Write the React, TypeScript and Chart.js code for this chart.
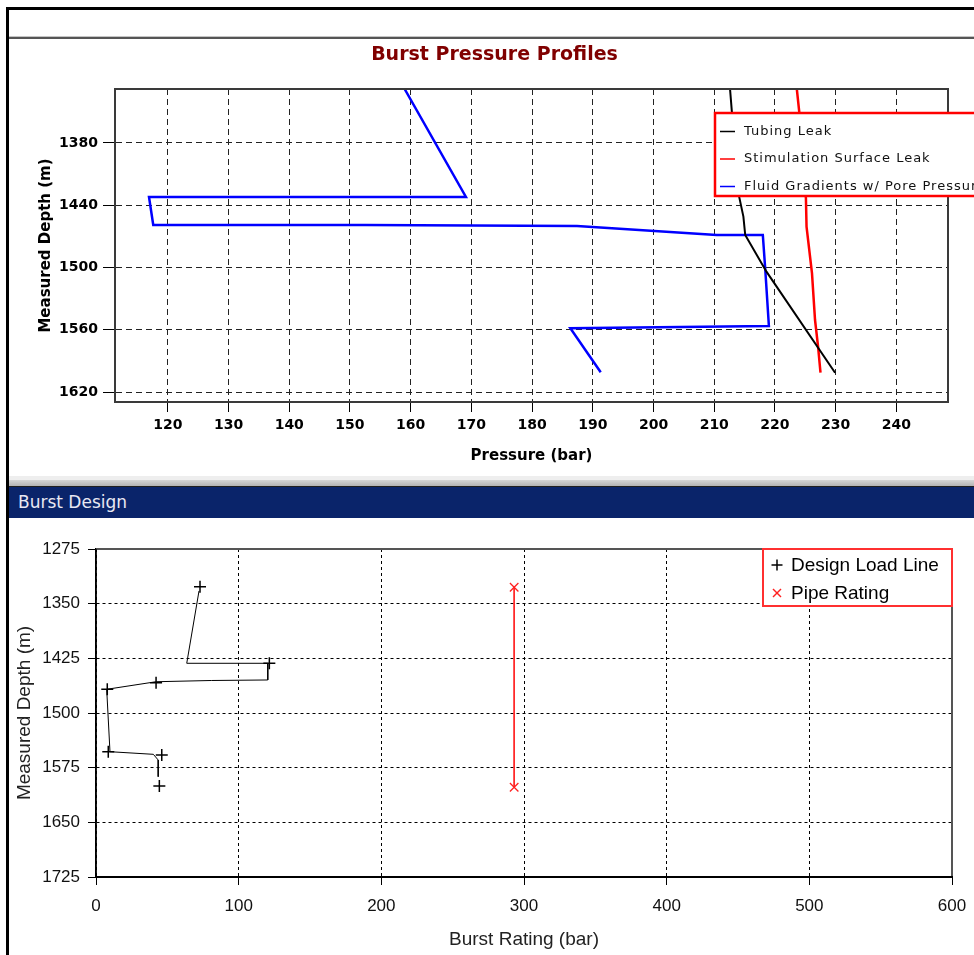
import React, { useEffect, useRef } from 'react';
import { Chart, registerables } from 'chart.js';

Chart.register(...registerables);

// ---------- Burst Pressure Profiles (upper chart) ----------
const PRESSURE_TICKS = [120, 130, 140, 150, 160, 170, 180, 190, 200, 210, 220, 230, 240];
const TOP_DEPTH_TICKS = [1380, 1440, 1500, 1560, 1620];

const TUBING_LEAK_PRESSURE = [212.6, 212.9, 214.1, 214.8, 215.1, 218.6, 229.9];
const TUBING_LEAK_DEPTH = [1328, 1349.8, 1431.8, 1451, 1468.7, 1504, 1601.4];

const STIMULATION_LEAK_PRESSURE = [223.6, 224.0, 225.1, 225.2, 226.1, 226.6, 227.1, 227.5];
const STIMULATION_LEAK_DEPTH = [1328, 1350, 1433.3, 1460.7, 1505.6, 1550.6, 1576.3, 1601.4];

const FLUID_GRADIENT_PRESSURE = [159.0, 169.1, 116.9, 117.6, 152.5, 187.4, 210.4, 218.0, 218.4, 219.0, 186.3, 191.3];
const FLUID_GRADIENT_DEPTH = [1328, 1432, 1432, 1459, 1459, 1460, 1468.7, 1468.7, 1501.7, 1556.4, 1558.6, 1601];

// ---------- Burst Design (lower chart) ----------
const BURST_TICKS = [0, 100, 200, 300, 400, 500, 600];
const BOTTOM_DEPTH_TICKS = [1275, 1350, 1425, 1500, 1575, 1650, 1725];

const DESIGN_LOAD_PATH_BAR = [72.2, 63.6, 120.4, 120.4, 81.1, 42.1, 7.5, 9.8, 40.2, 43.6, 43.6];
const DESIGN_LOAD_PATH_DEPTH = [1332.6, 1431.8, 1431.8, 1454.7, 1455.4, 1457.1, 1467.5, 1553.1, 1556.7, 1564.5, 1587.4];
const DESIGN_LOAD_POINT_BAR = [72.9, 121.5, 42.1, 7.9, 8.6, 46.1, 44.4];
const DESIGN_LOAD_POINT_DEPTH = [1326.7, 1431.8, 1458.4, 1467.5, 1553.1, 1557.6, 1600.2];

const PIPE_RATING_BAR = [293.1, 293.1];
const PIPE_RATING_DEPTH = [1327.5, 1601.8];

const FONT_BOLD = "'DejaVu Sans', 'Liberation Sans', sans-serif";
const FONT_SANS = "'Liberation Sans', Arial, sans-serif";

function xy(xs: number[], ys: number[]) {
  return xs.map((x, i) => ({ x, y: ys[i] }));
}

const fixedTicks = (values: number[]) => (scale: any) => {
  scale.ticks = values.map((v) => ({ value: v }));
};

const fitHeight = (h: number) => (s: any) => {
  s.height = h;
  s.paddingLeft = 0;
  s.paddingRight = 0;
};

const fitWidth = (w: number) => (s: any) => {
  s.width = w;
  s.paddingTop = 0;
  s.paddingBottom = 0;
};

const topFrame = {
  id: 'topFrame',
  afterDraw(chart: any) {
    const { ctx, chartArea: a } = chart;
    ctx.save();
    ctx.strokeStyle = '#3a3a3a';
    ctx.lineWidth = 2;
    ctx.strokeRect(a.left, a.top, a.right - a.left, a.bottom - a.top);

    const left = a.right - 233;
    const top = a.top + 24;
    const w = chart.width - left + 10;
    const h = 83;
    ctx.fillStyle = '#fff';
    ctx.fillRect(left, top, w, h);
    ctx.strokeStyle = '#ff0000';
    ctx.lineWidth = 2.5;
    ctx.strokeRect(left, top, w, h);
    ctx.font = `13px ${FONT_BOLD}`;
    ctx.textBaseline = 'middle';
    ctx.textAlign = 'left';
    (ctx as any).letterSpacing = '1px';
    chart.data.datasets.forEach((ds: any, i: number) => {
      const y = top + 18.5 + i * 27.5;
      ctx.strokeStyle = ds.borderColor;
      ctx.lineWidth = 1.5;
      ctx.beginPath();
      ctx.moveTo(left + 5, y);
      ctx.lineTo(left + 20, y);
      ctx.stroke();
      ctx.fillStyle = '#111';
      ctx.fillText(ds.label, left + 29, y);
    });
    ctx.restore();
  },
};

const bottomFrame = {
  id: 'bottomFrame',
  afterDraw(chart: any) {
    const { ctx, chartArea: a } = chart;
    const line = (x1: number, y1: number, x2: number, y2: number) => {
      ctx.beginPath();
      ctx.moveTo(x1, y1);
      ctx.lineTo(x2, y2);
      ctx.stroke();
    };
    ctx.save();
    ctx.lineWidth = 2;
    ctx.strokeStyle = '#555';
    line(a.left, a.top, a.right, a.top);
    line(a.right, a.top, a.right, a.bottom);
    ctx.strokeStyle = '#000';
    line(a.left - 1, a.bottom, a.right + 1, a.bottom);
    ctx.lineWidth = 1.5;
    line(a.left, a.top, a.left, a.bottom);

    const w = 189;
    const h = 57;
    const left = a.right - w;
    const top = a.top;
    ctx.fillStyle = '#fff';
    ctx.fillRect(left, top, w, h);
    ctx.strokeStyle = '#ff3030';
    ctx.lineWidth = 2;
    ctx.strokeRect(left, top, w, h);

    const items = chart.data.datasets.filter((ds: any) => ds.pointRadius > 0);
    ctx.font = `19px ${FONT_SANS}`;
    ctx.textBaseline = 'middle';
    ctx.textAlign = 'left';
    items.forEach((ds: any, i: number) => {
      const y = top + 16 + i * 28;
      const mx = left + 14;
      ctx.strokeStyle = ds.pointBorderColor;
      ctx.lineWidth = 1.5;
      if (ds.pointStyle === 'cross') {
        const r = 5.5;
        line(mx - r, y, mx + r, y);
        line(mx, y - r, mx, y + r);
      } else {
        const r = 4;
        line(mx - r, y - r, mx + r, y + r);
        line(mx - r, y + r, mx + r, y - r);
      }
      ctx.fillStyle = '#000';
      ctx.fillText(ds.label, left + 28, y + 1);
    });
    ctx.restore();
  },
};

export default function App() {
  const topRef = useRef<HTMLCanvasElement>(null);
  const botRef = useRef<HTMLCanvasElement>(null);

  useEffect(() => {
    const boldTick = { family: FONT_BOLD, size: 14, weight: 'bold' as const };
    const boldTitle = { family: FONT_BOLD, size: 15, weight: 'bold' as const };

    const topChart = new Chart(topRef.current as HTMLCanvasElement, {
      type: 'scatter',
      data: {
        datasets: [
          {
            label: 'Tubing Leak',
            data: xy(TUBING_LEAK_PRESSURE, TUBING_LEAK_DEPTH),
            showLine: true,
            borderColor: '#000000',
            borderWidth: 2,
            pointRadius: 0,
          },
          {
            label: 'Stimulation Surface Leak',
            data: xy(STIMULATION_LEAK_PRESSURE, STIMULATION_LEAK_DEPTH),
            showLine: true,
            borderColor: '#ff0000',
            borderWidth: 2.5,
            pointRadius: 0,
          },
          {
            label: 'Fluid Gradients w/ Pore Pressure',
            data: xy(FLUID_GRADIENT_PRESSURE, FLUID_GRADIENT_DEPTH),
            showLine: true,
            borderColor: '#0000ff',
            borderWidth: 2.5,
            pointRadius: 0,
          },
        ],
      },
      options: {
        responsive: false,
        animation: false,
        devicePixelRatio: 1,
        layout: { padding: { left: 41, right: 26, top: 0, bottom: 0 } },
        plugins: {
          legend: { display: false },
          tooltip: { enabled: false },
          title: {
            display: true,
            text: 'Burst Pressure Profiles',
            color: '#800000',
            font: { family: FONT_BOLD, size: 19, weight: 'bold' },
            padding: { top: 4.6, bottom: 22.6 },
          },
        },
        scales: {
          x: {
            type: 'linear',
            position: 'bottom',
            min: 111.3,
            max: 248.5,
            afterBuildTicks: fixedTicks(PRESSURE_TICKS),
            afterFit: fitHeight(74),
            grid: { color: '#222', lineWidth: 1, tickLength: 10, tickColor: '#000', tickWidth: 1 },
            border: { display: true, color: '#3a3a3a', width: 2, dash: [6, 4] },
            ticks: {
              color: '#000',
              font: boldTick,
              padding: 5,
              autoSkip: false,
              maxRotation: 0,
              callback: (v: any) => String(v),
            },
            title: {
              display: true,
              text: 'Pressure (bar)',
              color: '#000',
              font: boldTitle,
              padding: { top: 0, bottom: 11 },
            },
          },
          y: {
            type: 'linear',
            position: 'left',
            reverse: true,
            min: 1328,
            max: 1629.6,
            afterBuildTicks: fixedTicks(TOP_DEPTH_TICKS),
            afterFit: fitWidth(74),
            grid: { color: '#222', lineWidth: 1, tickLength: 12, tickColor: '#000', tickWidth: 1 },
            border: { display: true, color: '#3a3a3a', width: 2, dash: [6, 4] },
            ticks: {
              color: '#000',
              font: boldTick,
              padding: 5,
              autoSkip: false,
              callback: (v: any) => String(v),
            },
            title: {
              display: true,
              text: 'Measured Depth (m)',
              color: '#000',
              font: boldTitle,
              padding: { top: -4, bottom: 0 },
            },
          },
        },
      } as any,
      plugins: [topFrame],
    });

    const botChart = new Chart(botRef.current as HTMLCanvasElement, {
      type: 'scatter',
      data: {
        datasets: [
          {
            label: 'Design Load Line',
            data: xy(DESIGN_LOAD_PATH_BAR, DESIGN_LOAD_PATH_DEPTH),
            showLine: true,
            borderColor: '#000',
            borderWidth: 1,
            pointRadius: 0,
          },
          {
            label: 'Design Load Line',
            data: xy(DESIGN_LOAD_POINT_BAR, DESIGN_LOAD_POINT_DEPTH),
            showLine: false,
            pointStyle: 'cross',
            pointRadius: 6,
            pointBorderColor: '#000',
            pointBorderWidth: 1.5,
            borderColor: '#000',
          },
          {
            label: 'Pipe Rating',
            data: xy(PIPE_RATING_BAR, PIPE_RATING_DEPTH),
            showLine: true,
            borderColor: '#ff2020',
            borderWidth: 1,
            pointStyle: 'crossRot',
            pointRadius: 6,
            pointBorderColor: '#ff2020',
            pointBorderWidth: 1.3,
          },
        ],
      },
      options: {
        responsive: false,
        animation: false,
        devicePixelRatio: 1,
        layout: { padding: { left: 0, right: 22, top: 30, bottom: 0 } },
        plugins: {
          legend: { display: false },
          tooltip: { enabled: false },
        },
        scales: {
          x: {
            type: 'linear',
            position: 'bottom',
            min: 0,
            max: 600,
            afterBuildTicks: fixedTicks(BURST_TICKS),
            afterFit: fitHeight(78),
            grid: { color: '#000', lineWidth: 1, tickLength: 8, tickColor: '#000', tickWidth: 1 },
            border: { display: true, color: '#000', width: 1.5, dash: [3, 3] },
            ticks: {
              color: '#111',
              font: { family: FONT_SANS, size: 17 },
              padding: 11,
              autoSkip: false,
              maxRotation: 0,
              callback: (v: any) => String(v),
            },
            title: {
              display: true,
              text: 'Burst Rating (bar)',
              color: '#222',
              font: { family: FONT_SANS, size: 19 },
              padding: { top: 0, bottom: 3.6 },
            },
          },
          y: {
            type: 'linear',
            position: 'left',
            reverse: true,
            min: 1275,
            max: 1725,
            afterBuildTicks: fixedTicks(BOTTOM_DEPTH_TICKS),
            afterFit: fitWidth(96),
            grid: { color: '#000', lineWidth: 1, tickLength: 8, tickColor: '#000', tickWidth: 1 },
            border: { display: true, color: '#000', width: 1.5, dash: [3, 3] },
            ticks: {
              color: '#111',
              font: { family: FONT_SANS, size: 17 },
              padding: 8,
              autoSkip: false,
              callback: (v: any) => String(v),
            },
            title: {
              display: true,
              text: 'Measured Depth (m)',
              color: '#222',
              font: { family: FONT_SANS, size: 19 },
              padding: { top: 13.6, bottom: 0 },
            },
          },
        },
      } as any,
      plugins: [bottomFrame],
    });

    return () => {
      topChart.destroy();
      botChart.destroy();
    };
  }, []);

  const abs = (s: React.CSSProperties): React.CSSProperties => ({ position: 'absolute', ...s });

  return (
    <div style={abs({ left: 0, top: 0, width: 974, height: 955, overflow: 'hidden', background: '#fff' })}>
      <canvas ref={topRef} width={974} height={437} style={abs({ left: 0, top: 39, display: 'block' })} />
      <div style={abs({ left: 9, top: 476, width: 965, height: 4, background: '#eeeeee' })} />
      <div style={abs({ left: 9, top: 480, width: 965, height: 6, background: 'linear-gradient(#d6d6d6, #b4b4b4)' })} />
      <div style={abs({ left: 9, top: 486, width: 965, height: 1, background: '#202020' })} />
      <div
        style={abs({
          left: 9,
          top: 487,
          width: 965,
          height: 31,
          background: '#0a246a',
          color: '#e8e8f2',
          font: "17px 'DejaVu Sans', sans-serif",
          lineHeight: '31px',
          paddingLeft: 9,
          boxSizing: 'border-box',
        })}
      >
        Burst Design
      </div>
      <canvas ref={botRef} width={974} height={436} style={abs({ left: 0, top: 519, display: 'block' })} />
      <div style={abs({ left: 6, top: 7, width: 968, height: 3, background: '#000' })} />
      <div style={abs({ left: 6, top: 7, width: 3, height: 948, background: '#000' })} />
      <div style={abs({ left: 9, top: 36, width: 965, height: 1, background: '#c4c4c4' })} />
      <div style={abs({ left: 9, top: 37, width: 965, height: 2, background: '#555' })} />
    </div>
  );
}
